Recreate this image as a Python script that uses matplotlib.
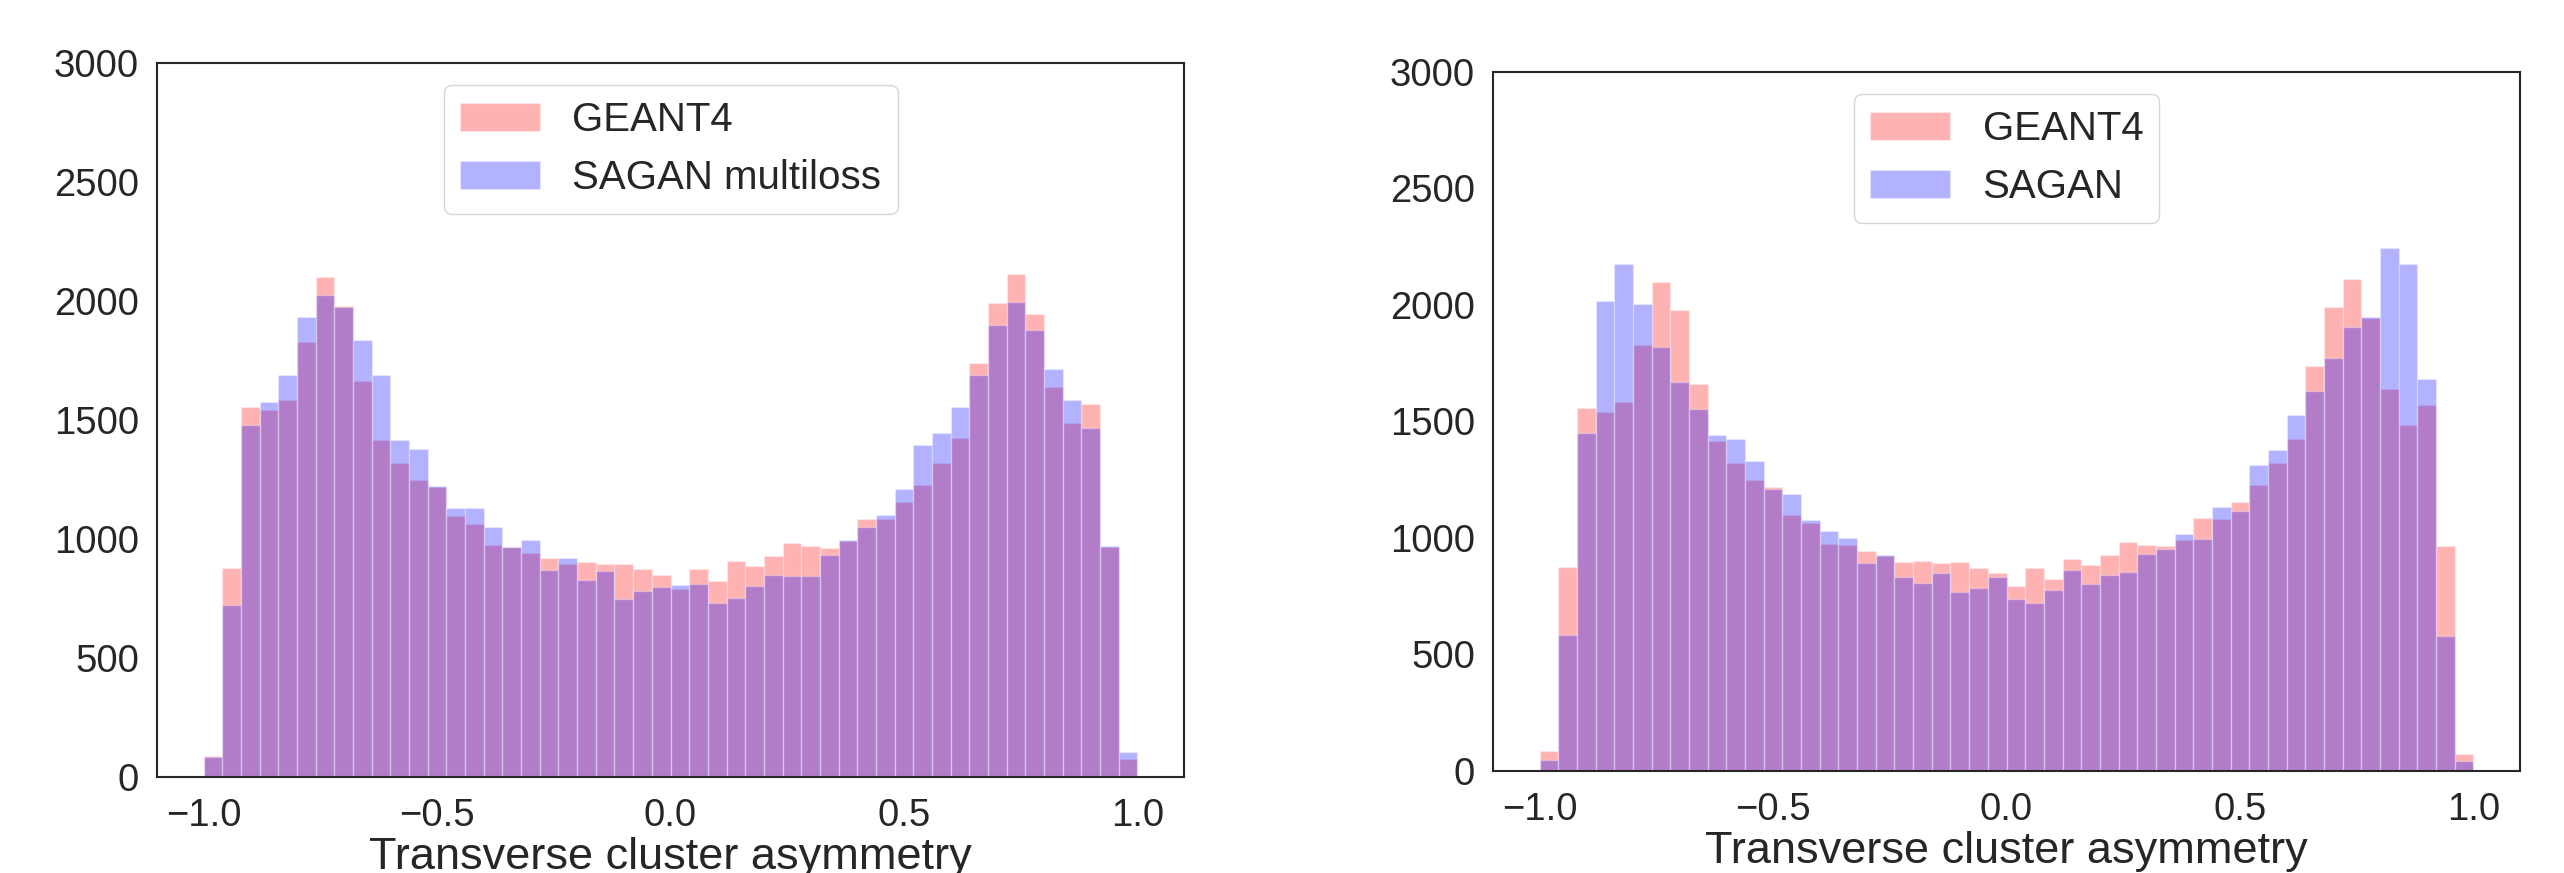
import numpy as np
import matplotlib
matplotlib.use('Agg')
import matplotlib.pyplot as plt

plt.rcParams['font.family'] = ['Liberation Sans', 'DejaVu Sans']
plt.rcParams['text.color'] = '.15'
plt.rcParams['axes.labelcolor'] = '.15'
plt.rcParams['xtick.color'] = '.15'
plt.rcParams['ytick.color'] = '.15'

# 50 equal bins over [-1, 1]
edges = np.linspace(-1, 1, 51)
centers = 0.5 * (edges[:-1] + edges[1:])

geant4 = [87, 877, 1556, 1541, 1583, 1829, 2100, 1978, 1662, 1416,
          1321, 1249, 1217, 1098, 1063, 976, 968, 943, 921, 896,
          902, 893, 895, 872, 850, 792, 872, 823, 908, 885,
          928, 983, 972, 964, 992, 1085, 1082, 1156, 1227, 1320,
          1425, 1738, 1993, 2112, 1946, 1639, 1486, 1569, 965, 74]

sagan_multiloss = [85, 721, 1481, 1575, 1691, 1933, 2027, 1975, 1837, 1687,
                   1418, 1380, 1222, 1129, 1129, 1050, 968, 994, 871, 919,
                   826, 865, 748, 781, 798, 806, 809, 731, 753, 804,
                   849, 843, 843, 934, 994, 1050, 1102, 1208, 1393, 1446,
                   1554, 1687, 1898, 1997, 1877, 1715, 1582, 1468, 972, 104]

sagan = [48, 583, 1449, 2017, 2177, 2003, 1820, 1671, 1552, 1441,
         1426, 1330, 1212, 1190, 1077, 1031, 1001, 894, 926, 833,
         808, 848, 768, 784, 832, 737, 722, 775, 863, 801,
         840, 854, 933, 951, 1016, 997, 1133, 1114, 1313, 1378,
         1526, 1631, 1771, 1907, 1948, 2246, 2175, 1684, 579, 43]

W, H = 2564, 873
fig = plt.figure(figsize=(W / 100, H / 100), dpi=100)
ax1 = fig.add_axes([157 / W, 1 - 777 / H, (1184 - 157) / W, (777 - 63) / H])
ax2 = fig.add_axes([1493 / W, 1 - 771 / H, (2520 - 1493) / W, (771 - 72) / H])

for ax, other, name in [(ax1, sagan_multiloss, 'SAGAN multiloss'),
                        (ax2, sagan, 'SAGAN')]:
    ax.hist(centers, bins=edges, weights=geant4, color='red', alpha=0.3,
            edgecolor='white', linewidth=1, label='GEANT4')
    ax.hist(centers, bins=edges, weights=other, color='blue', alpha=0.3,
            edgecolor='white', linewidth=1, label=name)
    ax.set_xlim(-1.1, 1.1)
    ax.set_ylim(0, 3000)
    ax.set_yticks([0, 500, 1000, 1500, 2000, 2500, 3000])
    ax.set_xticks([-1.0, -0.5, 0.0, 0.5, 1.0])
    ax.tick_params(axis='x', length=0, pad=15, labelsize=27.5)
    ax.tick_params(axis='y', length=0, pad=13, labelsize=27.5)
    for sp in ax.spines.values():
        sp.set_color('.15')
        sp.set_linewidth(1.5)
    ax.set_xlabel('Transverse cluster asymmetry', fontsize=32.5, labelpad=2)
    ax.legend(loc='upper center', fontsize=29, edgecolor='0.8',
              framealpha=0.8, borderaxespad=0.55)

fig.savefig('out.png', dpi=100)
